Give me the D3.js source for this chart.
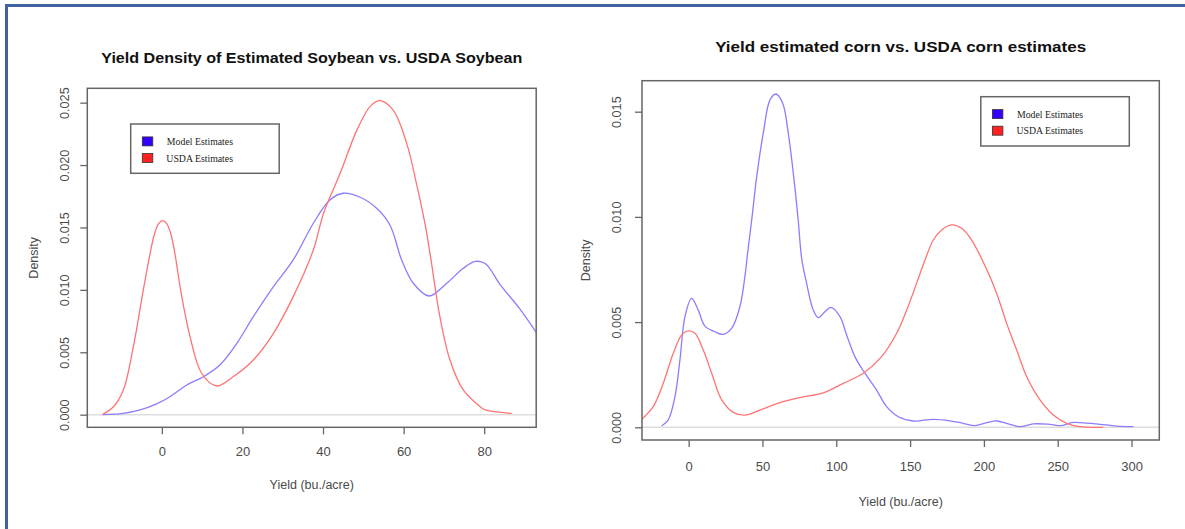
<!DOCTYPE html>
<html>
<head>
<meta charset="utf-8">
<script src="https://cdn.jsdelivr.net/npm/d3@7/dist/d3.min.js"></script>
<style>
  body { margin: 0; background: #fff; }
  svg { display: block; font-family: "Liberation Sans", Arial, sans-serif; }
  .axis path { display: none; }
  .axis line { stroke: #666; stroke-width: 1.3; }
  .axis text { fill: #4a4a4a; }
  .plot-box { fill: none; stroke: #666; stroke-width: 1.5; }
  .zero-line { stroke: #ddd; stroke-width: 1.5; }
  .curve { fill: none; stroke-width: 1.3; }
  .legend-box { fill: #fff; stroke: #666; stroke-width: 1.5; }
  .legend-text { font-family: "Liberation Serif", "Times New Roman", serif; font-size: 9.8px; fill: #222; }
  .title { font-weight: bold; font-size: 15px; fill: #111; }
  .axis-title { font-size: 12.5px; fill: #4a4a4a; }
</style>
</head>
<body>
<div id="chart"></div>
<script>
// soybean densities
var soyModelYield = [-14.7, -9.6, -5.4, -1.3, 2.0, 6.2, 10.3, 14.4, 18.6, 22.7, 27.7, 32.6, 37.6, 41.7, 45.0, 49.2, 53.3, 56.6, 59.5, 62.4, 66.3, 70.7, 74.8, 77.8, 80.3, 84.0, 88.7, 93.5];
var soyModelDensity = [0, 0.0001, 0.00038, 0.00086, 0.00144, 0.00238, 0.00304, 0.00398, 0.00572, 0.00785, 0.01026, 0.0124, 0.01534, 0.0172, 0.01774, 0.01742, 0.01654, 0.01520, 0.0124, 0.01053, 0.00951, 0.01053, 0.01173, 0.01228, 0.0121, 0.0104, 0.00853, 0.0063];

var soyUsdaYield = [-14.7, -12.0, -9.55, -7.07, -4.6, -3.1, -1.9, -0.8, 0.2, 1.2, 2.3, 3.4, 4.5, 7.0, 9.9, 13.6, 17.7, 22.7, 27.7, 32.6, 37.6, 40.1, 44.2, 48.4, 51.7, 54.1, 57.4, 60.8, 63.2, 65.3, 66.7, 69.0, 71.5, 74.8, 79.0, 80.3, 86.8];
var soyUsdaDensity = [0.00003, 0.00064, 0.00198, 0.00545, 0.0100, 0.0126, 0.0144, 0.0153, 0.01555, 0.0153, 0.0144, 0.0126, 0.0103, 0.00625, 0.0033, 0.0023, 0.00304, 0.00438, 0.00652, 0.00946, 0.0132, 0.0161, 0.0193, 0.0228, 0.0247, 0.02516, 0.0244, 0.0217, 0.0185, 0.0153, 0.0126, 0.00785, 0.00438, 0.00198, 0.00064, 0.00038, 0.0001];

// corn densities
var cornModelYield = [-18.3, -13.8, -9.3, -5.9, -2.5, 2.0, 6.5, 11.0, 17.8, 23.4, 29.1, 34.7, 38.1, 39.8, 42.7, 46.1, 50.5, 55.1, 59.1, 63.7, 67.5, 70.9, 74.2, 76.6, 79.9, 84.4, 87.8, 92.3, 96.4, 102.5, 107.0, 112.6, 119.4, 127.3, 134.1, 142.0, 152.1, 165.7, 177, 186, 194, 201.9, 208.6, 216.5, 224.4, 233.4, 244.7, 252.7, 259.4, 269.6, 278.6, 289.9, 301.2];
var cornModelDensity = [0.00006, 0.00035, 0.00145, 0.0032, 0.00526, 0.00613, 0.00557, 0.00481, 0.00454, 0.00442, 0.0047, 0.00573, 0.00716, 0.0082, 0.00985, 0.01191, 0.01397, 0.01556, 0.01584, 0.0154, 0.01397, 0.01207, 0.00985, 0.0080, 0.00684, 0.00557, 0.00521, 0.00549, 0.0057, 0.00526, 0.00439, 0.00336, 0.00257, 0.00177, 0.00098, 0.0005, 0.0003, 0.00038, 0.00031, 0.00019, 0.00008, 0.00022, 0.0003, 0.00016, 0.00003, 0.00016, 0.00014, 0.00008, 0.00022, 0.0002, 0.00014, 0.00006, 0.00003];

var cornUsdaYield = [-33, -24, -17.2, -10.4, -4.7, -0.3, 4.3, 9.9, 15.6, 22.4, 30.2, 38.1, 48.3, 61.8, 75.4, 91.2, 104.7, 118.3, 130.7, 140.9, 147.7, 154.4, 160.1, 165.7, 171.4, 178.1, 184.9, 191.7, 201.9, 208.6, 215.4, 222.2, 229, 238, 247, 256, 265, 280.8];
var cornUsdaDensity = [0.0003, 0.00098, 0.00209, 0.00352, 0.00439, 0.00458, 0.00447, 0.00367, 0.00257, 0.0013, 0.00071, 0.00058, 0.00082, 0.00117, 0.00141, 0.00164, 0.00209, 0.00257, 0.00336, 0.00447, 0.00557, 0.00684, 0.00795, 0.0089, 0.00938, 0.00962, 0.00946, 0.0089, 0.0075, 0.00637, 0.00494, 0.00367, 0.0024, 0.0013, 0.00058, 0.00019, 0.00003, 0];

var soyXTicks = [0, 20, 40, 60, 80];
var soyYTicks = [0, 0.005, 0.010, 0.015, 0.020, 0.025];
var cornXTicks = [0, 50, 100, 150, 200, 250, 300];
var cornYTicks = [0, 0.005, 0.010, 0.015];

var legendLabels = ["Model Estimates", "USDA Estimates"];

var COLORS = {
  modelLine: "#8a7dff",
  usdaLine: "#ff7373",
  modelKey: "#3300ff",
  usdaKey: "#ff2020",
  frame: "#3e62a2"
};

var zip = (xs, ys) => xs.map((x, i) => ({ x: x, y: ys[i] }));

var panels = [
  {
    id: "soy",
    title: "Yield Density of Estimated Soybean vs. USDA Soybean",
    titleY: 62.5,
    titleWidth: 421,
    box: { left: 87.3, top: 88.3, right: 536.2, bottom: 427.3 },
    xDomain: [-18.5, 92.9],
    yDomain: [-0.00101, 0.02615],
    xTicks: soyXTicks,
    yTicks: soyYTicks,
    xLabelOffset: 29,
    xTitleY: 488.5,
    yLabelOffset: 23.3,
    yTitleX: 33,
    legend: { x: 130.7, y: 124 },
    series: [
      { values: zip(soyModelYield, soyModelDensity), color: COLORS.modelLine },
      { values: zip(soyUsdaYield, soyUsdaDensity), color: COLORS.usdaLine }
    ]
  },
  {
    id: "corn",
    title: "Yield estimated corn vs. USDA corn estimates",
    titleY: 52,
    titleWidth: 371,
    box: { left: 642, top: 80.7, right: 1159.3, bottom: 440 },
    xDomain: [-31.6, 318.8],
    yDomain: [-0.000604, 0.016473],
    xTicks: cornXTicks,
    yTicks: cornYTicks,
    xLabelOffset: 31.3,
    xTitleY: 506,
    yLabelOffset: 25.4,
    yTitleX: 585,
    legend: { x: 980.8, y: 96.7 },
    series: [
      { values: zip(cornModelYield, cornModelDensity), color: COLORS.modelLine },
      { values: zip(cornUsdaYield, cornUsdaDensity), color: COLORS.usdaLine }
    ]
  }
];

var width = 1185;
var height = 529;

var svg = d3.select("#chart")
  .append("svg")
  .attr("width", width)
  .attr("height", height);

// the blue frame round the figure (top and left edge only are visible)
svg.append("line")
  .attr("x1", 5).attr("x2", width)
  .attr("y1", 5.6).attr("y2", 5.6)
  .attr("stroke", COLORS.frame)
  .attr("stroke-width", 3);
svg.append("line")
  .attr("x1", 6.5).attr("x2", 6.5)
  .attr("y1", 4).attr("y2", height)
  .attr("stroke", COLORS.frame)
  .attr("stroke-width", 3);

var fmtDensity = d3.format(".3f");

var renderPanel = function(config) {
  var box = config.box;
  var g = svg.append("g").attr("class", "panel " + config.id);

  var xScale = d3.scaleLinear().domain(config.xDomain).range([box.left, box.right]);
  var yScale = d3.scaleLinear().domain(config.yDomain).range([box.bottom, box.top]);

  // title
  g.append("text")
    .attr("class", "title")
    .attr("x", (box.left + box.right) / 2)
    .attr("y", config.titleY)
    .attr("text-anchor", "middle")
    .attr("textLength", config.titleWidth)
    .attr("lengthAdjust", "spacingAndGlyphs")
    .text(config.title);

  // clip curves to the plot region
  g.append("clipPath")
    .attr("id", "clip-" + config.id)
    .append("rect")
    .attr("x", box.left)
    .attr("y", box.top)
    .attr("width", box.right - box.left)
    .attr("height", box.bottom - box.top);

  // zero line
  g.append("line")
    .attr("class", "zero-line")
    .attr("x1", box.left)
    .attr("x2", box.right)
    .attr("y1", yScale(0))
    .attr("y2", yScale(0));

  var line = d3.line()
    .x(d => xScale(d.x))
    .y(d => yScale(d.y))
    .curve(d3.curveCatmullRom.alpha(0.5));

  g.append("g")
    .attr("clip-path", "url(#clip-" + config.id + ")")
    .selectAll("path")
    .data(config.series)
    .enter()
    .append("path")
    .attr("class", "curve")
    .attr("stroke", d => d.color)
    .attr("d", d => line(d.values));

  // axes
  var xAxis = d3.axisBottom(xScale)
    .tickValues(config.xTicks)
    .tickSize(7)
    .tickPadding(0)
    .tickFormat(d => d);

  g.append("g")
    .attr("class", "x axis")
    .attr("transform", `translate(0,${box.bottom})`)
    .call(xAxis)
    .selectAll("text")
    .attr("y", config.xLabelOffset)
    .attr("dy", 0)
    .style("font-size", "13px");

  var yAxis = d3.axisLeft(yScale)
    .tickValues(config.yTicks)
    .tickSize(7)
    .tickFormat(fmtDensity);

  g.append("g")
    .attr("class", "y axis")
    .attr("transform", `translate(${box.left},0)`)
    .call(yAxis)
    .selectAll("text")
    .attr("transform", "rotate(-90)")
    .attr("x", 0)
    .attr("y", -config.yLabelOffset)
    .attr("dy", "0.36em")
    .attr("text-anchor", "middle")
    .style("font-size", "12.7px");

  g.append("rect")
    .attr("class", "plot-box")
    .attr("x", box.left)
    .attr("y", box.top)
    .attr("width", box.right - box.left)
    .attr("height", box.bottom - box.top);

  // axis titles
  g.append("text")
    .attr("class", "axis-title")
    .attr("x", (box.left + box.right) / 2)
    .attr("y", config.xTitleY)
    .attr("text-anchor", "middle")
    .text("Yield (bu./acre)");

  g.append("text")
    .attr("class", "axis-title")
    .attr("transform", `translate(${config.yTitleX},${(box.top + box.bottom) / 2}) rotate(-90)`)
    .attr("dy", "0.36em")
    .attr("text-anchor", "middle")
    .text("Density");

  // legend
  var legend = g.append("g")
    .attr("class", "legend")
    .attr("transform", `translate(${config.legend.x},${config.legend.y})`);

  legend.append("rect")
    .attr("class", "legend-box")
    .attr("width", 148.5)
    .attr("height", 49.3);

  var keyColors = [COLORS.modelKey, COLORS.usdaKey];

  var items = legend.selectAll("g.key-item")
    .data(legendLabels)
    .enter()
    .append("g")
    .attr("class", "key-item")
    .attr("transform", (d, i) => `translate(0,${i * 16.6})`);

  items.append("rect")
    .attr("x", 11.6)
    .attr("y", 12.9)
    .attr("width", 10.5)
    .attr("height", 9)
    .attr("fill", (d, i) => keyColors[i])
    .attr("stroke", "#333")
    .attr("stroke-width", 0.8);

  items.append("text")
    .attr("class", "legend-text")
    .attr("x", 102.3)
    .attr("y", 21)
    .attr("text-anchor", "end")
    .text(d => d);
};

panels.forEach(renderPanel);
</script>
</body>
</html>
